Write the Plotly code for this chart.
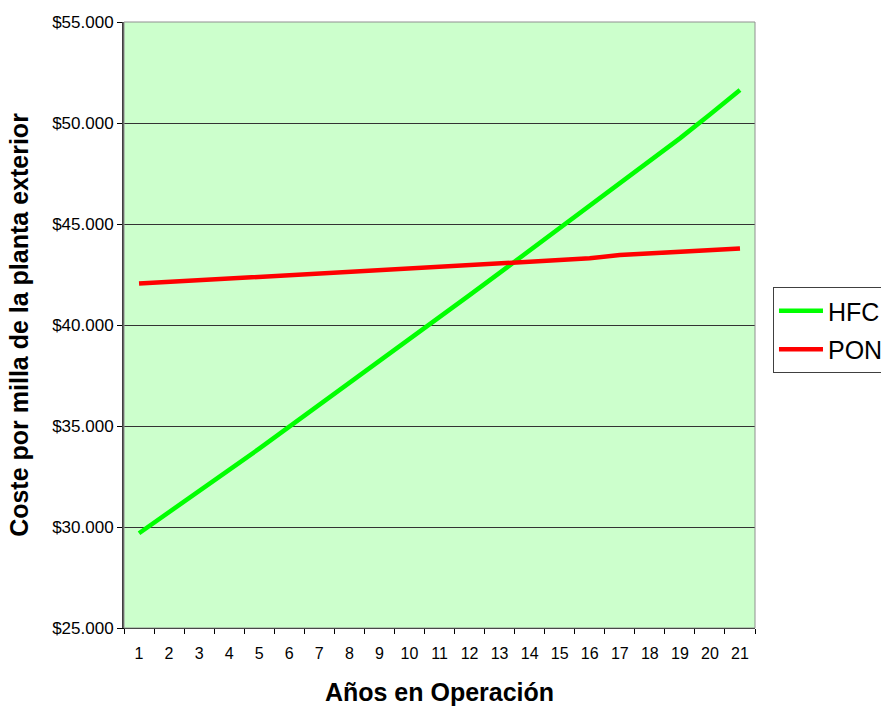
import plotly.graph_objects as go

# Years of operation (category axis)
years = [str(i) for i in range(1, 22)]

# Outside-plant cost per mile, by technology
hfc = [29690, 30720, 31760, 32830, 33880, 34960, 36020, 37100, 38190, 39280,
       40380, 41480, 42580, 43690, 44800, 45900, 47000, 48120, 49240, 50420, 51630]
pon = [42050, 42130, 42210, 42340, 42420, 42500, 42580, 42660, 42740, 42820,
       42900, 42980, 43060, 43140, 43220, 43300, 43460, 43540, 43620, 43700, 43790]

series_names = ["HFC", "PON"]
series_colors = ["#00FF00", "#FF0000"]

FONT = "Liberation Sans, Arial, sans-serif"

fig = go.Figure()
for name, vals, col in zip(series_names, [hfc, pon], series_colors):
    fig.add_trace(go.Scatter(
        x=years, y=vals, name=name, mode="lines",
        line=dict(color=col, width=4.5),
        legendgroup=name,
    ))

fig.update_layout(
    width=881, height=706,
    margin=dict(l=124, r=126, t=22, b=78, autoexpand=False),
    paper_bgcolor="white",
    plot_bgcolor="#CCFFCC",
    separators=",.",
    font=dict(family=FONT, color="black"),
    showlegend=True,
    legend=dict(
        x=1.0285, y=0.5627, xanchor="left", yanchor="top",
        bgcolor="white", bordercolor="#404040", borderwidth=1,
        font=dict(family=FONT, size=25, color="black"),
        tracegroupgap=3,
        itemwidth=44,
    ),
    xaxis=dict(
        type="category",
        tickson="boundaries",
        ticks="outside", ticklen=5, tickcolor="#000000",
        ticklabelstandoff=11,
        showgrid=False,
        showline=True, linecolor="#000000", linewidth=1,
        tickfont=dict(family=FONT, size=16, color="black"),
        title=dict(text="<b>Años en Operación</b>",
                   font=dict(family=FONT, size=25, color="black"),
                   standoff=22),
        range=[-0.5, 20.5],
        automargin=False,
    ),
    yaxis=dict(
        range=[25000, 55000],
        dtick=5000,
        tickprefix="$",
        tickformat=",.0f",
        ticks="outside", ticklen=5, tickcolor="#000000",
        showgrid=True, gridcolor="#333333", gridwidth=1,
        showline=True, linecolor="#404040", linewidth=2,
        zeroline=False,
        tickfont=dict(family=FONT, size=17, color="black"),
        title=dict(text="<b>Coste por milla de la planta exterior</b>",
                   font=dict(family=FONT, size=25, color="black"),
                   standoff=16),
        automargin=False,
    ),
)

# Plot-area frame
fig.add_shape(type="rect", xref="paper", yref="paper", x0=0, y0=0, x1=1, y1=1,
              line=dict(color="#909090", width=1), layer="above")

fig.write_html("out.html")
